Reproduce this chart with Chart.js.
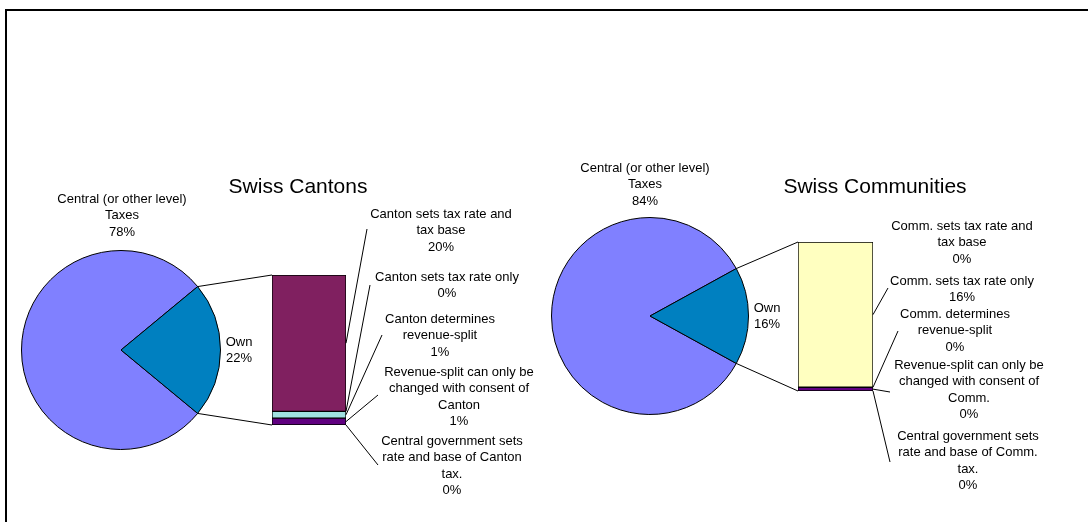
<!DOCTYPE html>
<html>
<head>
<meta charset="utf-8">
<title>Swiss Cantons and Communities</title>
<script src="https://cdn.jsdelivr.net/npm/chart.js@4.4.0/dist/chart.umd.min.js"></script>
<style>
  body { margin: 0; background: #fff; }
  #wrap { position: relative; width: 1088px; height: 522px; overflow: hidden; background: #fff; }
  #wrap canvas { position: absolute; left: 0; top: 0; }
  #frame { position: absolute; left: 5px; top: 9px; right: -10px; bottom: -10px;
           border-left: 2px solid #000; border-top: 2px solid #000; }
</style>
</head>
<body>
<div id="wrap">
  <div id="frame"></div>
  <canvas id="cantonPie" width="1088" height="522"></canvas>
  <canvas id="cantonBar" width="1088" height="522"></canvas>
  <canvas id="communityPie" width="1088" height="522"></canvas>
  <canvas id="communityBar" width="1088" height="522"></canvas>
</div>
<script>
// pie: central vs own taxes (percent of revenue)
const pieLabels = [["Central (or other level)", "Taxes"], ["Own"]];
const cantonPieValues = [78, 22];
const communityPieValues = [84, 16];

// bar: breakdown of the "Own" share, listed top to bottom
const cantonBarLabels = [
  ["Canton sets tax rate and", "tax base"],
  ["Canton sets tax rate only"],
  ["Canton determines", "revenue-split"],
  ["Revenue-split can only be", "changed with consent of", "Canton"],
  ["Central government sets", "rate and base of Canton", "tax."]
];
const cantonBarValues = [20, 0, 1, 1, 0];

const communityBarLabels = [
  ["Comm. sets tax rate and", "tax base"],
  ["Comm. sets tax rate only"],
  ["Comm. determines", "revenue-split"],
  ["Revenue-split can only be", "changed with consent of", "Comm."],
  ["Central government sets", "rate and base of Comm.", "tax."]
];
const communityBarValues = [0, 15.6, 0, 0.4, 0];

const pieColors = ["#8080FF", "#0080C0"];
const barColors = ["#802060", "#FFFFC0", "#A0E0E0", "#600080", "#FF8080"];

const FONT = "'Liberation Sans', Arial, sans-serif";
const LINE_H = 16.5;

// where things sit on the page
const cantonLayout = {
  title: "Swiss Cantons", titleX: 298, titleY: 187,
  piePad: { left: 21, right: 867, top: 250, bottom: 72 },
  barPad: { left: 272, right: 742, top: 275, bottom: 97 },
  pieText: [[122, 199], [239, 342]],
  barText: [[441, 214], [447, 277], [440, 319], [459, 372], [452, 441]],
  leaders: [[367, 229], [370, 285], [382, 335], [378, 395], [378, 465]]
};
const communityLayout = {
  title: "Swiss Communities", titleX: 875, titleY: 187,
  piePad: { left: 551, right: 339, top: 217, bottom: 107 },
  barPad: { left: 798, right: 215, top: 242, bottom: 131 },
  pieText: [[645, 168], [767, 308]],
  barText: [[962, 226], [962, 281], [955, 314], [969, 365], [968, 436]],
  leaders: [null, [888, 288], [898, 331], [890, 392], [890, 462]]
};

function pct(v) {
  return Math.round(v) + "%";
}

function drawBlock(ctx, lines, x, y) {
  lines.forEach((line, k) => ctx.fillText(line, x, y + k * LINE_H));
}

function makePie(id, values, layout) {
  return new Chart(document.getElementById(id), {
    type: "pie",
    data: {
      labels: pieLabels.map((l) => l.join(" ")),
      datasets: [{
        data: values,
        backgroundColor: pieColors,
        borderColor: "#000",
        borderWidth: 1,
        hoverOffset: 0,
        offset: 0
      }]
    },
    options: {
      responsive: false,
      animation: false,
      events: [],
      // turn so the "Own" slice faces the bar
      rotation: 90 + values[1] * 1.8,
      layout: { padding: layout.piePad },
      plugins: { legend: { display: false }, tooltip: { enabled: false } }
    }
  });
}

function makeBar(id, values, labels, layout, pie, pieValues) {
  const total = values.reduce((a, b) => a + b, 0);
  const n = values.length;
  // chart.js stacks the first dataset at the bottom
  const datasets = values.map((v, i) => ({
    label: labels[i].join(" "),
    data: [v],
    backgroundColor: barColors[i],
    borderColor: "#000",
    borderWidth: 1,
    borderSkipped: false,
    barPercentage: 1,
    categoryPercentage: 1
  })).reverse();

  const overlay = {
    id: "pieOfBar",
    afterDraw(chart) {
      const ctx = chart.ctx;
      const yScale = chart.scales.y;
      const seg = (i) => chart.getDatasetMeta(n - 1 - i).data[0];
      const first = seg(0);
      const left = first.x - first.width / 2;
      const right = first.x + first.width / 2;
      const top = yScale.getPixelForValue(total);
      const bottom = yScale.getPixelForValue(0);

      ctx.save();
      ctx.strokeStyle = "#000";
      ctx.lineWidth = 1;

      // lines from the "Own" slice to the bar
      const arc = pie.getDatasetMeta(0).data[1];
      const r = arc.outerRadius;
      ctx.beginPath();
      ctx.moveTo(arc.x + r * Math.cos(arc.startAngle), arc.y + r * Math.sin(arc.startAngle));
      ctx.lineTo(left, top);
      ctx.moveTo(arc.x + r * Math.cos(arc.endAngle), arc.y + r * Math.sin(arc.endAngle));
      ctx.lineTo(left, bottom);
      ctx.stroke();

      // leader lines to the segment labels
      ctx.beginPath();
      values.forEach((v, i) => {
        const end = layout.leaders[i];
        if (!end) return;
        const el = seg(i);
        ctx.moveTo(right, (el.y + el.base) / 2);
        ctx.lineTo(end[0], end[1]);
      });
      ctx.stroke();

      ctx.fillStyle = "#000";
      ctx.textAlign = "center";
      ctx.textBaseline = "middle";
      ctx.font = "13px " + FONT;
      values.forEach((v, i) => {
        const p = layout.barText[i];
        drawBlock(ctx, labels[i].concat(pct(v)), p[0], p[1]);
      });
      pieValues.forEach((v, i) => {
        const p = layout.pieText[i];
        drawBlock(ctx, pieLabels[i].concat(pct(v)), p[0], p[1]);
      });

      ctx.font = "21px " + FONT;
      ctx.fillText(layout.title, layout.titleX, layout.titleY);
      ctx.restore();
    }
  };

  return new Chart(document.getElementById(id), {
    type: "bar",
    data: { labels: ["Own"], datasets: datasets },
    options: {
      responsive: false,
      animation: false,
      events: [],
      layout: { padding: layout.barPad },
      scales: {
        x: { display: false, stacked: true },
        y: { display: false, stacked: true, min: 0, max: total }
      },
      plugins: { legend: { display: false }, tooltip: { enabled: false } }
    },
    plugins: [overlay]
  });
}

const cantonPie = makePie("cantonPie", cantonPieValues, cantonLayout);
makeBar("cantonBar", cantonBarValues, cantonBarLabels, cantonLayout, cantonPie, cantonPieValues);

const communityPie = makePie("communityPie", communityPieValues, communityLayout);
makeBar("communityBar", communityBarValues, communityBarLabels, communityLayout, communityPie, communityPieValues);
</script>
</body>
</html>
